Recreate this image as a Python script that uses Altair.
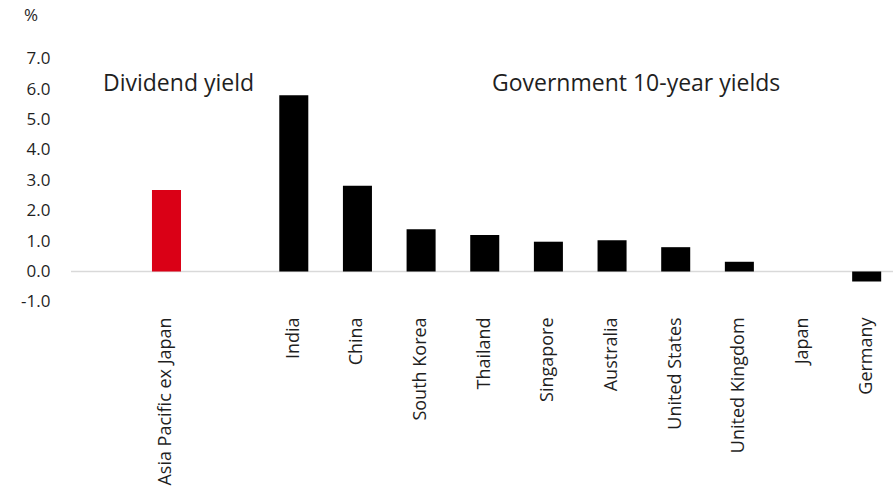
import altair as alt
import pandas as pd

# Category slots along the x axis; the "_gap" entries are empty spacer slots
slots = [
    "_gap0", "Asia Pacific ex Japan", "_gap1", "India", "China", "South Korea",
    "Thailand", "Singapore", "Australia", "United States", "United Kingdom",
    "Japan", "Germany",
]

markets = [
    "Asia Pacific ex Japan", "India", "China", "South Korea", "Thailand",
    "Singapore", "Australia", "United States", "United Kingdom", "Japan", "Germany",
]
yields = [2.68, 5.80, 2.82, 1.39, 1.20, 0.98, 1.03, 0.80, 0.32, 0.0, -0.33]
kinds = ["Dividend yield"] + ["Government 10-year yields"] * 10

y_ticks = [-1, 0, 1, 2, 3, 4, 5, 6, 7]

df = pd.DataFrame({"market": markets, "value": yields, "kind": kinds})

FONT = "Open Sans"
INK = "#1f1f1f"
W, H = 822, 243.2

y_axis = alt.Axis(
    title=None, domain=False, ticks=False, tickSize=0, grid=False,
    values=y_ticks, labelPadding=21, labelFontSize=17, labelFont=FONT,
    labelColor=INK, labelOverlap=False,
    labelExpr="(datum.value < 0 ? '-' : '') + format(abs(datum.value), '.1f')",
)
y_scale = alt.Scale(domain=[-1, 7], nice=False, zero=False)

x_enc = alt.X(
    "market:N",
    scale=alt.Scale(domain=slots, range=[0, 827.5], paddingInner=0.544, paddingOuter=0.272),
    axis=alt.Axis(
        title=None, domain=False, ticks=False, tickSize=0, grid=False, labelAngle=-90,
        labelAlign="right", labelBaseline="middle", labelPadding=15,
        labelFontSize=18, labelFont=FONT, labelColor=INK, labelLimit=300,
        labelOverlap=False,
        labelExpr="indexof(datum.value, '_gap') == 0 ? '' : datum.value",
    ),
)

zero_line = alt.Chart(pd.DataFrame({"value": [0.0]})).mark_rule(
    color="#d9d9d9", strokeWidth=1.5
).encode(
    y=alt.Y("value:Q", scale=y_scale, axis=y_axis),
    x=alt.value(0), x2=alt.value(W),
)

bars = alt.Chart(df).mark_bar().encode(
    x=x_enc,
    y=alt.Y("value:Q", scale=y_scale, axis=y_axis),
    color=alt.Color(
        "kind:N",
        scale=alt.Scale(domain=["Dividend yield", "Government 10-year yields"],
                        range=["#DA0016", "#000000"]),
        legend=None,
    ),
)

def note(text, px, py, size=23, align="left"):
    return alt.Chart(pd.DataFrame({"t": [text]})).mark_text(
        align=align, baseline="middle", fontSize=size, font=FONT, color=INK
    ).encode(text="t:N", x=alt.value(px), y=alt.value(py))

chart = alt.layer(
    zero_line,
    bars,
    note("Dividend yield", 32, 25.3),
    note("Government 10-year yields", 421, 25.3),
    note("%", -40, -42.7, size=17, align="center"),
).properties(
    width=W, height=H,
    background="white",
    autosize=alt.AutoSizeParams(type="none"),
    padding={"left": 71, "top": 58.7, "right": 0, "bottom": 187.1},
).configure_view(stroke=None).configure_axis(labelOverlap=False)

chart.save("out.html", embed_options={"renderer": "svg", "actions": False})
